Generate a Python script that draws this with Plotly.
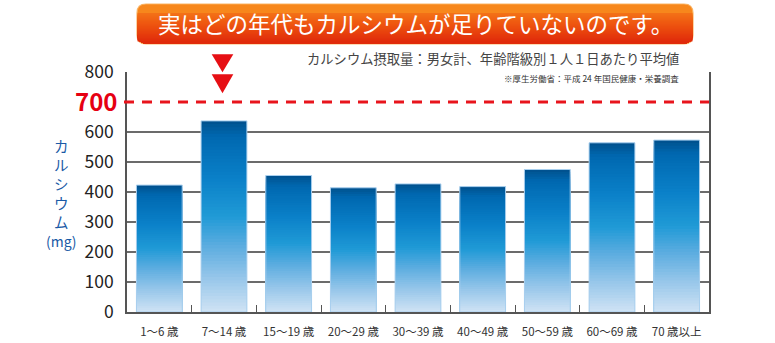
import plotly.graph_objects as go

# ---- data ----
categories = ["1～6 歳", "7～14 歳", "15～19 歳", "20～29 歳", "30～39 歳",
              "40～49 歳", "50～59 歳", "60～69 歳", "70 歳以上"]
calcium_mg = [423, 637, 455, 414, 427, 418, 475, 564, 573]
target_mg = 700
y_tickvals = [0, 100, 200, 300, 400, 500, 600, 800]
grid_vals = [100, 200, 300, 400, 500, 600]

title_text = "実はどの年代もカルシウムが足りていないのです。"
subtitle_text = "カルシウム摂取量：男女計、年齢階級別１人１日あたり平均値"
note_text = "※厚生労働省：平成 24 年国民健康・栄養調査"
ytitle_chars = ["カ", "ル", "シ", "ウ", "ム"]
ytitle_unit = "(mg)"

FONT = "Noto Sans CJK JP"
W, H = 775, 343
L, R, T, B = 127, 66, 72, 31
PW, PH = W - L - R, H - T - B


def px2x(px):
    return (px - L) / PW


def py2y(py):
    return (H - B - py) / PH


def lerp_stops(stops, t):
    for i in range(len(stops) - 1):
        t0, c0 = stops[i]
        t1, c1 = stops[i + 1]
        if t0 <= t <= t1:
            f = (t - t0) / (t1 - t0) if t1 > t0 else 0
            c = [round(c0[k] + (c1[k] - c0[k]) * f) for k in range(3)]
            return "rgb(%d,%d,%d)" % tuple(c)
    c = stops[-1][1]
    return "rgb(%d,%d,%d)" % tuple(c)


bar_stops = [
    (0.0, (0, 80, 140)),
    (0.08, (0, 104, 176)),
    (0.3, (10, 128, 200)),
    (0.5, (32, 154, 214)),
    (0.65, (90, 172, 224)),
    (0.82, (150, 198, 234)),
    (1.0, (208, 227, 245)),
]

fig = go.Figure()
N = 60
for k in range(N):
    t = k / N
    fig.add_trace(go.Bar(
        x=categories,
        y=[v * (1 - t) for v in calcium_mg],
        marker=dict(color=lerp_stops(bar_stops, (k + 0.5) / N), line=dict(width=0)),
        hoverinfo="skip", showlegend=False,
    ))
fig.add_trace(go.Bar(
    x=categories, y=calcium_mg,
    marker=dict(color="rgba(0,0,0,0)", line=dict(color="#a8cfee", width=1)),
    showlegend=False,
))

shapes = []
# grid lines
for g in grid_vals:
    shapes.append(dict(type="line", xref="paper", yref="y", x0=0, x1=1, y0=g, y1=g,
                       line=dict(color="#3a3a3a", width=1.3), layer="below"))
# 700 dashed line
shapes.append(dict(type="line", xref="paper", yref="y", x0=px2x(124), x1=1,
                   y0=target_mg, y1=target_mg,
                   line=dict(color="#e8141c", width=3, dash="10px,8px"), layer="above"))

# banner (rounded rectangle with vertical gradient)
bx0, by0, bx1, by1, rr = 137, 4, 693, 44, 9


def P(px, py):
    return "%.5f,%.5f" % (px2x(px), py2y(py))


def rounded_path(x0, y0, x1, y1, r, round_top=True):
    if round_top:
        s = "M " + P(x0 + r, y0) + " L " + P(x1 - r, y0) + " Q " + P(x1, y0) + " " + P(x1, y0 + r)
    else:
        s = "M " + P(x0, y0) + " L " + P(x1, y0)
    s += " L " + P(x1, y1 - r) + " Q " + P(x1, y1) + " " + P(x1 - r, y1)
    s += " L " + P(x0 + r, y1) + " Q " + P(x0, y1) + " " + P(x0, y1 - r)
    if round_top:
        s += " L " + P(x0, y0 + r) + " Q " + P(x0, y0) + " " + P(x0 + r, y0)
    s += " Z"
    return s


ban_stops = [(0.0, (247, 135, 28)), (0.5, (238, 85, 16)), (1.0, (222, 36, 10))]
shapes.append(dict(type="path", xref="paper", yref="paper",
                   path=rounded_path(bx0, by0, bx1, by1, rr),
                   fillcolor=lerp_stops(ban_stops, 0.0),
                   line=dict(color="rgba(250,175,90,0.9)", width=1.2), layer="above"))
nstr = 30
for i in range(nstr):
    yk = by0 + rr + (by1 - by0 - rr - 1.5) * i / nstr
    t = (yk - by0) / (by1 - by0)
    shapes.append(dict(type="path", xref="paper", yref="paper",
                       path=rounded_path(bx0 + 0.6, yk, bx1 - 0.6, by1 - 0.6, rr - 0.5, round_top=False),
                       fillcolor=lerp_stops(ban_stops, t), line=dict(width=0), layer="above"))

# red down triangles
for (ty0, ty1) in [(54.3, 72.3), (74.3, 93.3)]:
    path = "M " + P(211.7, ty0) + " L " + P(233.3, ty0) + " L " + P(222.5, ty1) + " Z"
    shapes.append(dict(type="path", xref="paper", yref="paper", path=path,
                       fillcolor="#e60f14", line=dict(width=0), layer="above"))

annotations = [
    dict(text=title_text, xref="paper", yref="paper", x=px2x(415), y=py2y(23.5),
         xanchor="center", yanchor="middle", showarrow=False,
         font=dict(family=FONT, size=22.5, color="white")),
    dict(text=subtitle_text, xref="paper", yref="paper", x=px2x(681), y=py2y(59),
         xanchor="right", yanchor="middle", showarrow=False,
         font=dict(family=FONT, size=13.3, color="#444444")),
    dict(text=note_text, xref="paper", yref="paper", x=px2x(681), y=py2y(78),
         xanchor="right", yanchor="middle", showarrow=False,
         font=dict(family=FONT, size=8.5, color="#333333")),
    dict(text=str(target_mg), xref="paper", yref="paper", x=px2x(119), y=py2y(100),
         xanchor="right", yanchor="middle", showarrow=False,
         font=dict(family=FONT, size=24, color="#e60012", weight="bold")),
]
ycent = [145, 164, 183, 202, 221]
for ch, cy in zip(ytitle_chars, ycent):
    annotations.append(dict(text=ch, xref="paper", yref="paper", x=px2x(61), y=py2y(cy),
                            xanchor="center", yanchor="middle", showarrow=False,
                            font=dict(family=FONT, size=14.5, color="#1a5aa6")))
annotations.append(dict(text=ytitle_unit, xref="paper", yref="paper", x=px2x(61), y=py2y(241),
                        xanchor="center", yanchor="middle", showarrow=False,
                        font=dict(family=FONT, size=14, color="#1a5aa6")))

fig.update_layout(
    width=W, height=H,
    margin=dict(l=L, r=R, t=T, b=B, pad=0, autoexpand=False),
    paper_bgcolor="white", plot_bgcolor="white",
    barmode="overlay", bargap=0.292,
    shapes=shapes, annotations=annotations,
    font=dict(family=FONT),
    xaxis=dict(type="category", automargin=False, showgrid=False, showline=True,
               linecolor="#555555", linewidth=1.5,
               ticks="inside", tickson="boundaries", ticklen=7, tickwidth=1.3, tickcolor="#555555",
               tickfont=dict(family=FONT, size=11.5, color="#333333"), ticklabelstandoff=8,
               range=[-0.5, len(categories) - 0.5], fixedrange=True),
    yaxis=dict(range=[0, 800], automargin=False, tickvals=y_tickvals, showgrid=False, zeroline=False,
               showline=True, mirror=True, linecolor="#555555", linewidth=1.5,
               ticks="", tickfont=dict(family=FONT, size=17.5, color="#222222"),
               ticklabelstandoff=8, fixedrange=True),
)

fig.write_html("out.html")
